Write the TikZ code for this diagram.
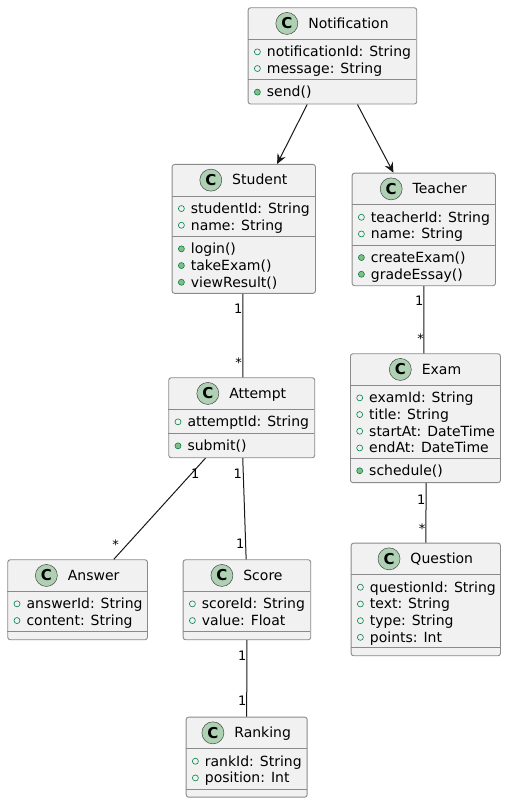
\documentclass[tikz,border=0pt]{standalone}
\usepackage{fontspec}
\setmainfont{DejaVu Sans}
\usetikzlibrary{positioning,arrows.meta}
\definecolor{umlline}{HTML}{181818}
\definecolor{umlborder}{HTML}{8A8A8A}
\definecolor{umlfill}{HTML}{F1F1F1}
\definecolor{iconfill}{HTML}{ADD1B2}
\definecolor{bulletgreen}{HTML}{038048}
\definecolor{dotfill}{HTML}{84BE84}
\begin{document}
\begin{tikzpicture}[x=1pt, y=-1pt, font=\fontsize{14}{16.3}\selectfont, label distance=6pt]
\tikzstyle{classbox}=[draw=umlborder, line width=0.9pt, fill=umlfill, rounded corners=2.5pt, anchor=north west, inner sep=0pt]
\tikzstyle{cname}=[anchor=base, inner sep=0pt, text height=13pt, text depth=3.3pt]
\tikzstyle{cicon}=[circle, draw=umlline!80, line width=0.5pt, fill=iconfill, minimum size=22pt, inner sep=0pt, font=\fontsize{15}{16}\selectfont\bfseries]
\tikzstyle{sep}=[draw=umlborder, line width=0.9pt]
\tikzstyle{ring}=[circle, draw=bulletgreen, line width=0.6pt, minimum size=6pt, inner sep=0pt, text height=0pt, text depth=0pt]
\tikzstyle{dot}=[ring, fill=dotfill]
\tikzstyle{attr}=[anchor=north west, inner sep=0pt, text height=13pt, text depth=3.3pt, label={[ring]left:{}}]
\tikzstyle{meth}=[anchor=north west, inner sep=0pt, text height=13pt, text depth=3.3pt, label={[dot]left:{}}]
\tikzstyle{assoc}=[draw=umlline, line width=1pt]
\tikzstyle{dep}=[assoc, -{Stealth[length=10pt, width=9pt, inset=3.5pt]}]
\tikzstyle{mult}=[anchor=base east, inner sep=0pt, font=\fontsize{13}{15}\selectfont]
\useasboundingbox (0,0) rectangle (506,802);
% Notification
\node[classbox, minimum width=168.6pt, minimum height=96.3pt] (notification) at (247.7,7.3) {};
\node[cname] (notificationname) at ([xshift=16pt, yshift=-21pt]notification.north) {Notification};
\node[cicon, left=10pt of notificationname] (notificationicon) {C};
\coordinate (notificationa) at ([yshift=-32pt]notification.north west);
\coordinate (notificationm) at ([yshift=-72.3pt]notification.north west);
\draw[sep] (notificationa) -- ++(168.6,0);
\draw[sep] (notificationm) -- ++(168.6,0);
\node[attr, below right=4.2pt and 19pt of notificationa] (notification1) {notificationId: String};
\node[attr] (notification2) at (notification1.south west) {message: String};
\node[meth, below right=4.2pt and 19pt of notificationm] (notification3) {send()};
% Student
\node[classbox, minimum width=143.3pt, minimum height=128.9pt] (student) at (171.7,164) {};
\node[cname] (studentname) at ([xshift=16pt, yshift=-21pt]student.north) {Student};
\node[cicon, left=10pt of studentname] (studenticon) {C};
\coordinate (studenta) at ([yshift=-32pt]student.north west);
\coordinate (studentm) at ([yshift=-72.3pt]student.north west);
\draw[sep] (studenta) -- ++(143.3,0);
\draw[sep] (studentm) -- ++(143.3,0);
\node[attr, below right=4.2pt and 19pt of studenta] (student1) {studentId: String};
\node[attr] (student2) at (student1.south west) {name: String};
\node[meth, below right=4.2pt and 19pt of studentm] (student3) {login()};
\node[meth] (student4) at (student3.south west) {takeExam()};
\node[meth] (student5) at (student4.south west) {viewResult()};
% Teacher
\node[classbox, minimum width=143.3pt, minimum height=112.6pt] (teacher) at (351.7,172.7) {};
\node[cname] (teachername) at ([xshift=16pt, yshift=-21pt]teacher.north) {Teacher};
\node[cicon, left=10pt of teachername] (teachericon) {C};
\coordinate (teachera) at ([yshift=-32pt]teacher.north west);
\coordinate (teacherm) at ([yshift=-72.3pt]teacher.north west);
\draw[sep] (teachera) -- ++(143.3,0);
\draw[sep] (teacherm) -- ++(143.3,0);
\node[attr, below right=4.2pt and 19pt of teachera] (teacher1) {teacherId: String};
\node[attr] (teacher2) at (teacher1.south west) {name: String};
\node[meth, below right=4.2pt and 19pt of teacherm] (teacher3) {createExam()};
\node[meth] (teacher4) at (teacher3.south west) {gradeEssay()};
% Attempt
\node[classbox, minimum width=146pt, minimum height=80pt] (attempt) at (168.3,377.3) {};
\node[cname] (attemptname) at ([xshift=16pt, yshift=-21pt]attempt.north) {Attempt};
\node[cicon, left=10pt of attemptname] (attempticon) {C};
\coordinate (attempta) at ([yshift=-32pt]attempt.north west);
\coordinate (attemptm) at ([yshift=-56pt]attempt.north west);
\draw[sep] (attempta) -- ++(146,0);
\draw[sep] (attemptm) -- ++(146,0);
\node[attr, below right=4.2pt and 19pt of attempta] (attempt1) {attemptId: String};
\node[meth, below right=4.2pt and 19pt of attemptm] (attempt2) {submit()};
% Exam
\node[classbox, minimum width=150pt, minimum height=128.9pt] (exam) at (350,353.3) {};
\node[cname] (examname) at ([xshift=16pt, yshift=-21pt]exam.north) {Exam};
\node[cicon, left=10pt of examname] (examicon) {C};
\coordinate (exama) at ([yshift=-32pt]exam.north west);
\coordinate (examm) at ([yshift=-104.9pt]exam.north west);
\draw[sep] (exama) -- ++(150,0);
\draw[sep] (examm) -- ++(150,0);
\node[attr, below right=4.2pt and 19pt of exama] (exam1) {examId: String};
\node[attr] (exam2) at (exam1.south west) {title: String};
\node[attr] (exam3) at (exam2.south west) {startAt: DateTime};
\node[attr] (exam4) at (exam3.south west) {endAt: DateTime};
\node[meth, below right=4.2pt and 19pt of examm] (exam5) {schedule()};
% Answer
\node[classbox, minimum width=139.7pt, minimum height=80pt] (answer) at (7.3,559.3) {};
\node[cname] (answername) at ([xshift=16pt, yshift=-21pt]answer.north) {Answer};
\node[cicon, left=10pt of answername] (answericon) {C};
\coordinate (answera) at ([yshift=-32pt]answer.north west);
\coordinate (answerm) at ([yshift=-72.3pt]answer.north west);
\draw[sep] (answera) -- ++(139.7,0);
\draw[sep] (answerm) -- ++(139.7,0);
\node[attr, below right=4.2pt and 19pt of answera] (answer1) {answerId: String};
\node[attr] (answer2) at (answer1.south west) {content: String};
% Score
\node[classbox, minimum width=127.6pt, minimum height=80pt] (score) at (182.7,559.3) {};
\node[cname] (scorename) at ([xshift=16pt, yshift=-21pt]score.north) {Score};
\node[cicon, left=10pt of scorename] (scoreicon) {C};
\coordinate (scorea) at ([yshift=-32pt]score.north west);
\coordinate (scorem) at ([yshift=-72.3pt]score.north west);
\draw[sep] (scorea) -- ++(127.6,0);
\draw[sep] (scorem) -- ++(127.6,0);
\node[attr, below right=4.2pt and 19pt of scorea] (score1) {scoreId: String};
\node[attr] (score2) at (score1.south west) {value: Float};
% Question
\node[classbox, minimum width=149.3pt, minimum height=112.6pt] (question) at (350.7,542.7) {};
\node[cname] (questionname) at ([xshift=16pt, yshift=-21pt]question.north) {Question};
\node[cicon, left=10pt of questionname] (questionicon) {C};
\coordinate (questiona) at ([yshift=-32pt]question.north west);
\coordinate (questionm) at ([yshift=-104.9pt]question.north west);
\draw[sep] (questiona) -- ++(149.3,0);
\draw[sep] (questionm) -- ++(149.3,0);
\node[attr, below right=4.2pt and 19pt of questiona] (question1) {questionId: String};
\node[attr] (question2) at (question1.south west) {text: String};
\node[attr] (question3) at (question2.south west) {type: String};
\node[attr] (question4) at (question3.south west) {points: Int};
% Ranking
\node[classbox, minimum width=121pt, minimum height=80pt] (ranking) at (185.7,716.7) {};
\node[cname] (rankingname) at ([xshift=16pt, yshift=-21pt]ranking.north) {Ranking};
\node[cicon, left=10pt of rankingname] (rankingicon) {C};
\coordinate (rankinga) at ([yshift=-32pt]ranking.north west);
\coordinate (rankingm) at ([yshift=-72.3pt]ranking.north west);
\draw[sep] (rankinga) -- ++(121,0);
\draw[sep] (rankingm) -- ++(121,0);
\node[attr, below right=4.2pt and 19pt of rankinga] (ranking1) {rankId: String};
\node[attr] (ranking2) at (ranking1.south west) {position: Int};
% connectors
\draw[dep] ([xshift=-25.3pt]notification.south) -- ([xshift=33.3pt]student.north);
\draw[dep] ([xshift=25pt]notification.south) -- ([xshift=-30.4pt]teacher.north);
\draw[assoc] ([xshift=-1pt]student.south) -- ([xshift=1pt]attempt.north);
\draw[assoc] (teacher.south) -- ([xshift=-1.7pt]exam.north);
\draw[assoc] ([xshift=0.7pt]exam.south) -- (question.north);
\draw[assoc] ([xshift=-36.3pt]attempt.south) -- ([xshift=36.2pt]answer.north);
\draw[assoc] ([xshift=1pt]attempt.south) -- ([xshift=-0.8pt]score.north);
\draw[assoc] (score.south) -- (ranking.north);
% multiplicities
\node[mult] (sa1) at (242.5,313.5) {1};
\node[mult] (sa2) at (242,367) {*};
\node[mult] (te1) at (423.5,305) {1};
\node[mult] (te2) at (424,343) {*};
\node[mult] (eq1) at (425.5,504) {1};
\node[mult] (eq2) at (425.5,533) {*};
\node[mult] (aa1) at (199.5,478.3) {1};
\node[mult] (aa2) at (119,549) {*};
\node[mult] (as1) at (242,478.3) {1};
\node[mult] (as2) at (244.5,548.3) {1};
\node[mult] (sr1) at (246.5,660) {1};
\node[mult] (sr2) at (246.5,705) {1};
\end{tikzpicture}
\end{document}
